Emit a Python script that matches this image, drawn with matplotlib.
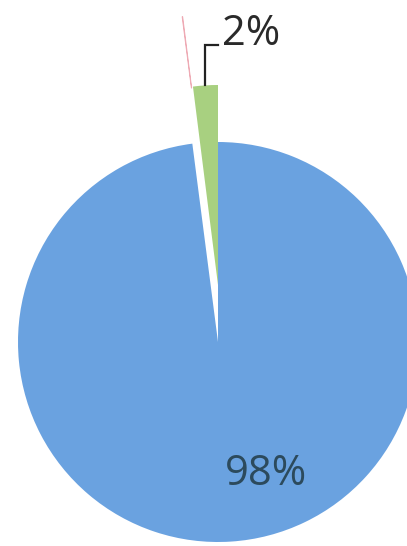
import numpy as np
import matplotlib
matplotlib.use('Agg')
import matplotlib.pyplot as plt

# Slice data (share of total, %)
slice_names = ['Green', 'Red', 'Blue']
slice_values = [2.0, 0.05, 98.0]
slice_labels = ['2%', '', '98%']
slice_colors = ['#a8d080', '#eeaab4', '#6aa2e0']
slice_explode = [0.285, 0.64, 0.0]

W, H = 407, 546
cx, cy, scale = 218, 342, 200  # pie centre in pixels, px per unit radius

fig = plt.figure(figsize=(W / 100, H / 100), dpi=100)
ax = fig.add_axes([0, 0, 1, 1])

wedges, _ = ax.pie(slice_values, colors=slice_colors, explode=slice_explode,
                   startangle=90, counterclock=True, radius=1.0,
                   wedgeprops={'linewidth': 0})
# green slice is pulled straight up, not along its bisector
wedges[0].set_center((0.0, slice_explode[0]))
# red sliver: only its outer part shows, touching the green corner
rx, ry = wedges[1].center
wedges[1].set_center((rx + 0.03, ry))
wedges[1].set_width(0.36)
wedges[1].set_edgecolor(slice_colors[1])
wedges[1].set_linewidth(0.6)
wedges[1].set_zorder(0.5)
wedges[0].set_zorder(2)
wedges[2].set_zorder(1)

ax.set_xlim(-cx / scale, (W - cx) / scale)
ax.set_ylim(-(H - cy) / scale, cy / scale)
ax.set_aspect('auto')
ax.axis('off')

# 2% label with elbow leader from the outer edge of the green slice
g = wedges[0]
mid = np.deg2rad((g.theta1 + g.theta2) / 2)
gx, gy = g.center
x0 = gx + g.r * np.cos(mid)
y0 = gy + g.r * np.sin(mid)
ytxt = 1.485
ax.plot([x0, x0, 0.0], [y0, ytxt, ytxt], color='#222222', lw=1.6,
        solid_joinstyle='miter', zorder=3)
ax.text(0.02, ytxt, slice_labels[0], fontsize=30, color='#2a2a2a',
        ha='left', va='baseline', family='Open Sans', zorder=3)

# 98% label inside the blue slice
ax.text(0.035, -0.715, slice_labels[2], fontsize=30, color='#2c4a5c',
        ha='left', va='baseline', family='Open Sans', zorder=3)

fig.savefig('out.png', dpi=100)
